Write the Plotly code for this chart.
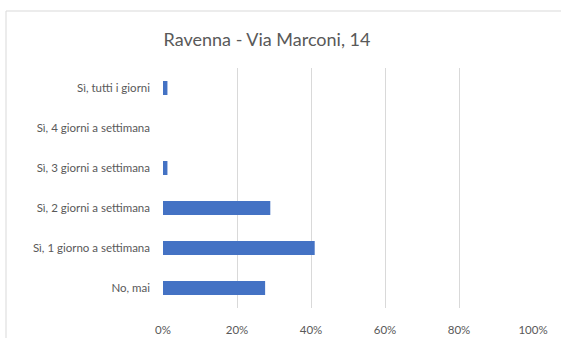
"""Bar chart: Ravenna - Via Marconi, 14."""

import plotly.graph_objects as go

categories = [
    "No, mai",
    "Sì, 1 giorno a settimana",
    "Sì, 2 giorni a settimana",
    "Sì, 3 giorni a settimana",
    "Sì, 4 giorni a settimana",
    "Sì, tutti i giorni",
]
values = [0.276, 0.41, 0.29, 0.012, 0.0, 0.012]
x_ticks = [0, 0.2, 0.4, 0.6, 0.8, 1.0]
x_tick_labels = ["0%", "20%", "40%", "60%", "80%", "100%"]

font_family = "Lato, 'Open Sans', sans-serif"
text_grey = "#595959"

fig = go.Figure()
fig.add_trace(
    go.Bar(
        x=values,
        y=categories,
        orientation="h",
        marker=dict(color="#4472C4", line=dict(width=0)),
    )
)

# chart frame (Excel-style light border)
fig.add_shape(
    type="rect",
    xref="paper",
    yref="paper",
    x0=-0.4243,
    x1=1.3,
    y0=-0.5,
    y1=1.2375,
    line=dict(color="#d9d9d9", width=1),
    fillcolor="rgba(0,0,0,0)",
    layer="below",
)

fig.update_layout(
    width=561,
    height=338,
    margin=dict(l=163, r=28, t=68, b=30),
    paper_bgcolor="white",
    plot_bgcolor="white",
    bargap=0.65,
    showlegend=False,
    title=dict(
        text="Ravenna - Via Marconi, 14",
        x=0.476,
        xanchor="center",
        y=1 - 40 / 338,
        yanchor="middle",
        font=dict(family=font_family, size=18, color=text_grey),
    ),
    font=dict(family=font_family, size=11.5, color=text_grey),
)

fig.update_xaxes(
    range=[0, 1.0],
    tickvals=x_ticks,
    ticktext=x_tick_labels,
    showgrid=True,
    gridcolor="#d9d9d9",
    gridwidth=1,
    zeroline=False,
    showline=False,
    ticks="",
    ticklabelstandoff=13,
    automargin=False,
    tickfont=dict(size=11.5, color=text_grey),
)
fig.update_yaxes(
    categoryorder="array",
    categoryarray=categories,
    showgrid=False,
    zeroline=False,
    showline=False,
    ticks="",
    ticklabelstandoff=12,
    automargin=False,
    tickfont=dict(size=11.5, color=text_grey),
)

# drop the default page margin so the figure sits at the window origin
fig.write_html(
    "out.html",
    config={"displayModeBar": False},
    post_script="document.body.style.margin = '0';",
)
